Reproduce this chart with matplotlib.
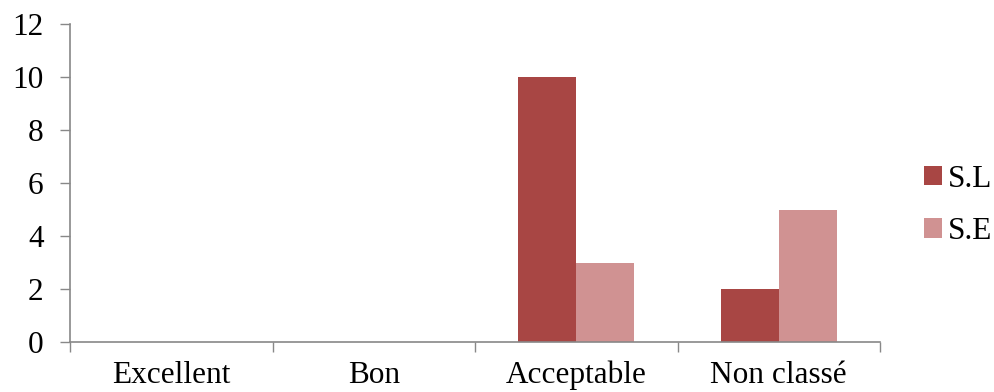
import matplotlib
matplotlib.use("Agg")
import matplotlib.pyplot as plt
import numpy as np

categories = ["Excellent", "Bon", "Acceptable", "Non classé"]
series_names = ["S.L", "S.E"]
sl_values = [0, 0, 10, 2]
se_values = [0, 0, 3, 5]
colors = ["#A84644", "#D09292"]

plt.rcParams["font.family"] = ["Liberation Serif", "DejaVu Serif"]
FS = 22.5

fig = plt.figure(figsize=(9.94, 3.92), dpi=100)
ax = fig.add_axes([70 / 994, 1 - 342 / 392, 810 / 994, 318 / 392])

x = np.arange(len(categories))
w = 1 / 3.5
ax.bar(x - w / 2, sl_values, width=w, color=colors[0], label=series_names[0])
ax.bar(x + w / 2, se_values, width=w, color=colors[1], label=series_names[1])

ax.set_xlim(-0.5, len(categories) - 0.5)
ax.set_ylim(0, 12)
ax.set_yticks(range(0, 13, 2))
ax.tick_params(axis="y", labelsize=FS, length=7, width=1, color="#888888", pad=12)

ax.set_xticks(np.arange(len(categories) + 1) - 0.5)
ax.set_xticklabels([])
ax.set_xticks(x, minor=True)
ax.set_xticklabels(categories, minor=True)
ax.tick_params(axis="x", which="major", length=7, width=1, color="#888888")
ax.tick_params(axis="x", which="minor", length=0, labelsize=FS, pad=13.5)

for side in ("top", "right"):
    ax.spines[side].set_visible(False)
for side in ("left", "bottom"):
    ax.spines[side].set_color("#888888")
    ax.spines[side].set_linewidth(1.2)

ax.legend(loc="center left", bbox_to_anchor=(1.054, 0.430), frameon=False,
          fontsize=FS, handlelength=0.57, handleheight=0.57, handletextpad=0.2,
          labelspacing=0.75, borderaxespad=0, borderpad=0)

fig.savefig("out.png", dpi=100)
